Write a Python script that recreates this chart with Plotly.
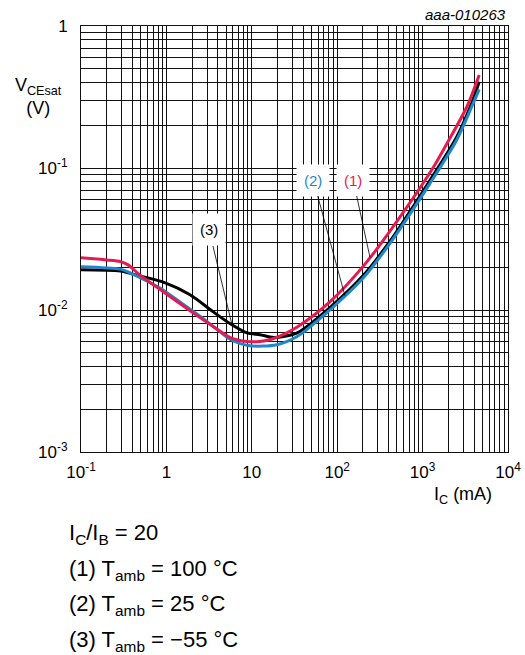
import numpy as np
import plotly.graph_objects as go

# Collector current (mA) and saturation voltage (V) for each ambient temperature
ic_100 = [0.1, 0.2, 0.29, 0.36, 0.49, 0.84, 1.44, 2.5, 3.7, 5.6, 8.8, 12.5, 18, 34, 82, 200, 415, 1320, 1930, 3300, 4600]
vce_100 = [0.0233, 0.0225, 0.0219, 0.0207, 0.0176, 0.0140, 0.0111, 0.0088, 0.0075, 0.0064, 0.0060, 0.0060, 0.0063, 0.0076, 0.0114, 0.0202, 0.036, 0.100, 0.149, 0.270, 0.452]

ic_25 = [0.1, 0.29, 0.36, 0.49, 0.84, 1.44, 2.5, 3.7, 5.6, 9.5, 19.6, 34, 82, 200, 415, 1220, 2500, 3760, 4600]
vce_25 = [0.0202, 0.0194, 0.0185, 0.0169, 0.0143, 0.0114, 0.0090, 0.0075, 0.0062, 0.0056, 0.0057, 0.0065, 0.0100, 0.0167, 0.0295, 0.078, 0.157, 0.270, 0.358]

ic_m55 = [0.1, 0.29, 0.45, 0.92, 1.89, 3.54, 5.6, 8.8, 12.5, 18, 34, 82, 200, 415, 1220, 2500, 3760, 4600]
vce_m55 = [0.0192, 0.0188, 0.0176, 0.0157, 0.0128, 0.0097, 0.0080, 0.0069, 0.0067, 0.0064, 0.0069, 0.0104, 0.0174, 0.0305, 0.082, 0.165, 0.287, 0.405]

x_tick_vals = [0.1, 1, 10, 100, 1000, 10000]
x_tick_text = ["10<sup>-1</sup>", "1", "10", "10<sup>2</sup>", "10<sup>3</sup>", "10<sup>4</sup>"]
y_tick_vals = [0.001, 0.01, 0.1, 1]
y_tick_text = ["10<sup>-3</sup>", "10<sup>-2</sup>", "10<sup>-1</sup>", "1"]

legend_lines = [
    "I<sub>C</sub>/I<sub>B</sub> = 20",
    "(1) T<sub>amb</sub> = 100 °C",
    "(2) T<sub>amb</sub> = 25 °C",
    "(3) T<sub>amb</sub> = −55 °C",
]

RED = "#E61A50"
BLUE = "#1E87CB"
BLACK = "#000000"
GRID = "#111111"
FONT = "Liberation Sans, Arial, sans-serif"

W, H = 525, 655
L, R, T, B = 81, 17, 26, 203
PW, PH = W - L - R, H - T - B


def px_x(px):
    return (px - L) / PW


def px_y(py):
    return (H - B - py) / PH


def on_curve(xs, ys, x):
    # log-log interpolation of a curve at current x
    return 10 ** np.interp(np.log10(x), np.log10(xs), np.log10(ys))


minor_vals = [k * 10.0 ** d for d in range(-1, 4) for k in range(2, 10)]
minor_vals_y = [k * 10.0 ** d for d in range(-3, 0) for k in range(2, 10)]

fig = go.Figure()
for xs, ys, col in [(ic_m55, vce_m55, BLACK), (ic_25, vce_25, BLUE), (ic_100, vce_100, RED)]:
    fig.add_trace(go.Scatter(
        x=xs, y=ys, mode="lines",
        line=dict(color=col, width=3, shape="spline", smoothing=0.8),
        hoverinfo="skip", showlegend=False,
    ))

axis_common = dict(
    type="log",
    showgrid=True, gridcolor=GRID, gridwidth=1,
    showline=True, linecolor=GRID, linewidth=1, mirror=True,
    ticks="", zeroline=False,
    tickfont=dict(family=FONT, size=17, color="black"),
)
fig.update_xaxes(
    range=[-1, 4], tickmode="array", tickvals=x_tick_vals, ticktext=x_tick_text,
    minor=dict(tickmode="array", tickvals=minor_vals, showgrid=True, gridcolor=GRID, gridwidth=1),
    ticklabelstandoff=5, **axis_common,
)
fig.update_yaxes(
    range=[-3, 0], tickmode="array", tickvals=y_tick_vals, ticktext=y_tick_text,
    minor=dict(tickmode="array", tickvals=minor_vals_y, showgrid=True, gridcolor=GRID, gridwidth=1),
    ticklabelstandoff=9, **axis_common,
)

annotations = []
# curve labels with leader lines
curve_labels = [
    ("(1)", RED, ic_100, vce_100, 242, 154, 0.0823),
    ("(2)", BLUE, ic_25, vce_25, 123, 52.5, 0.0823),
    ("(3)", BLACK, ic_m55, vce_m55, 5.86, 3.16, 0.0366),
]
for txt, col, xs, ys, xh, xt, yt in curve_labels:
    yh = on_curve(xs, ys, xh)
    annotations.append(dict(
        x=np.log10(xh), y=np.log10(yh), xref="x", yref="y",
        ax=np.log10(xt), ay=np.log10(yt), axref="x", ayref="y",
        text=txt, showarrow=True, arrowhead=0, arrowwidth=0.8, arrowcolor="black",
        standoff=0, bgcolor="white", borderpad=7,
        font=dict(family=FONT, size=15, color=col),
    ))

annotations.append(dict(
    x=1.0, y=px_y(15), xref="paper", yref="paper", xanchor="right", yanchor="middle",
    text="<i>aaa-010263</i>", showarrow=False,
    font=dict(family=FONT, size=15, color="black"),
))
# y-axis title on two lines
annotations.append(dict(
    x=px_x(38.5), y=px_y(97), xref="paper", yref="paper", xanchor="center", yanchor="middle",
    text="V<sub>CEsat</sub><br>(V)", showarrow=False, align="center",
    font=dict(family=FONT, size=18, color="black"),
))
annotations.append(dict(
    x=px_x(494), y=px_y(495), xref="paper", yref="paper", xanchor="right", yanchor="middle",
    text="I<sub>C</sub> (mA)", showarrow=False,
    font=dict(family=FONT, size=18, color="black"),
))
for i, line in enumerate(legend_lines):
    annotations.append(dict(
        x=px_x(67), y=px_y(534 + 35.5 * i), xref="paper", yref="paper",
        xanchor="left", yanchor="middle",
        text=line, showarrow=False,
        font=dict(family=FONT, size=22, color="black"),
    ))

fig.update_layout(
    width=W, height=H,
    margin=dict(l=L, r=R, t=T, b=B, autoexpand=False),
    paper_bgcolor="white", plot_bgcolor="white",
    annotations=annotations,
    showlegend=False,
)

fig.write_html("out.html")
